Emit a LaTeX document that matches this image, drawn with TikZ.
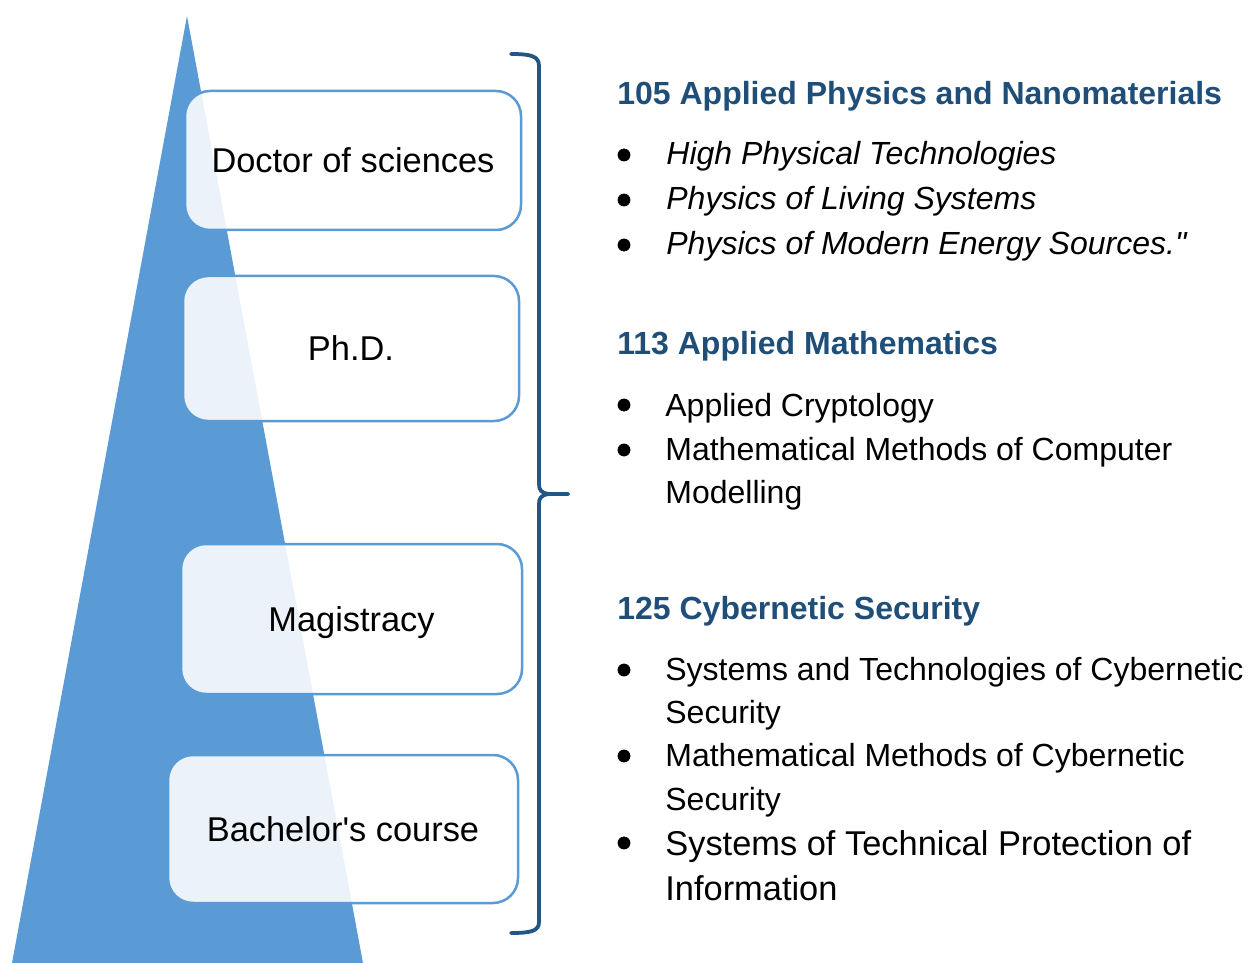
\documentclass[tikz,border=0pt]{standalone}
\usepackage{fontspec}
\newfontfamily\arial{Liberation Sans}
\definecolor{tri}{HTML}{5B9BD5}
\definecolor{headblue}{HTML}{1F4E79}
\definecolor{braceblue}{HTML}{225685}
\begin{document}
\begin{tikzpicture}[x=0.5pt,y=-0.5pt,
  lvl/.style={draw=tri, line width=1.25pt, fill=white, fill opacity=0.88, text opacity=1,
    rounded corners=12.5pt, font=\arial\fontsize{17.2}{20}\selectfont, inner sep=0pt,
    text height=16pt, text depth=3.6pt},
  headtxt/.style={anchor=base west, text=headblue, font=\arial\fontsize{16}{19}\selectfont\bfseries, inner sep=0pt},
  itm/.style={anchor=base west, font=\arial\fontsize{16}{19}\selectfont, inner sep=0pt},
  itmi/.style={itm, font=\arial\fontsize{16}{19}\selectfont\itshape},
  itmL/.style={itm, font=\arial\fontsize{17.2}{20}\selectfont},
  bul/.style={circle, fill=black, draw=black, line width=0.4pt, inner sep=0pt, minimum size=6pt},
  bracepath/.style={draw=braceblue, line width=1.9pt, line cap=round, line join=round}]
\useasboundingbox (0,0) rectangle (1250,963);
% pyramid
\fill[tri] (187,16) -- (363,963) -- (12,963) -- cycle;
% level boxes
\node[lvl, minimum width=168pt, minimum height=69.5pt] (doc) at (353,160.5) {Doctor of sciences};
\node[lvl, minimum width=168pt, minimum height=72.5pt] (phd) at (351,348.5) {Ph.D.};
\node[lvl, minimum width=170.5pt, minimum height=75pt] (mag) at (351.5,619) {Magistracy};
\node[lvl, minimum width=175pt, minimum height=74pt] (bach) at (343,829) {Bachelor's course};
% brace
\coordinate (btop) at (511,54);
\coordinate (btip) at (568,494);
\coordinate (bbot) at (511,933);
\draw[bracepath] (btop) .. controls (531,54) and (539,56) .. (539,66) -- (539,484)
  .. controls (539,490) and (541,493) .. (549,494) -- (btip);
\draw[bracepath] (btip) -- (549,494) .. controls (541,495) and (539,498) .. (539,504)
  -- (539,922) .. controls (539,931) and (531,933) .. (bbot);
% section 105
\node[headtxt] (h1) at (617,105) {105 Applied Physics and Nanomaterials};
\node[bul] (b11) at (624,155) {};
\node[itmi] (t11) at (666,165) {High Physical Technologies};
\node[bul] (b12) at (624,200) {};
\node[itmi] (t12) at (666,210) {Physics of Living Systems};
\node[bul] (b13) at (624,245) {};
\node[itmi] (t13) at (666,255) {Physics of Modern Energy Sources."};
% section 113
\node[headtxt] (h2) at (617,355) {113 Applied Mathematics};
\node[bul] (b21) at (624,405) {};
\node[itm] (t21) at (665,416) {Applied Cryptology};
\node[bul] (b22) at (624,450) {};
\node[itm] (t22) at (665,460) {Mathematical Methods of Computer};
\node[itm] (t22b) at (665,503) {Modelling};
% section 125
\node[headtxt] (h3) at (617,619) {125 Cybernetic Security};
\node[bul] (b31) at (624,670) {};
\node[itm] (t31) at (665,680) {Systems and Technologies of Cybernetic};
\node[itm] (t31b) at (665,723) {Security};
\node[bul] (b32) at (624,756) {};
\node[itm] (t32) at (665,766) {Mathematical Methods of Cybernetic};
\node[itm] (t32b) at (665,810) {Security};
\node[bul] (b33) at (624,843) {};
\node[itmL] (t33) at (665,855) {Systems of Technical Protection of};
\node[itmL] (t33b) at (665,900) {Information};
\end{tikzpicture}
\end{document}
